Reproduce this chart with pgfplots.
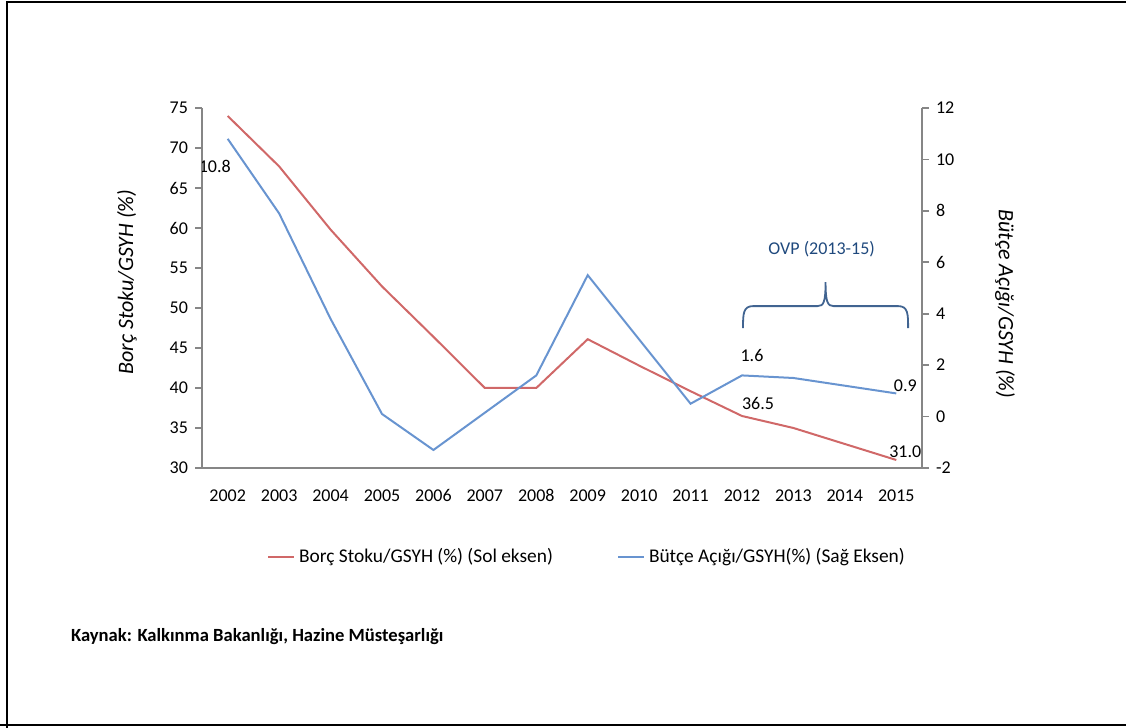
\documentclass[border=0pt]{standalone}
\usepackage{fontspec}
\setmainfont{Carlito}
\usepackage{pgfplots}
\pgfplotsset{compat=1.18}
\usetikzlibrary{calc}

\definecolor{redline}{RGB}{208,104,104}
\definecolor{blueline}{RGB}{104,148,208}
\definecolor{axisgray}{RGB}{134,134,134}
\definecolor{ovpblue}{RGB}{31,73,125}

% data: year index (0 = 2002), value
\pgfplotstableread{
x y
0 74.0
1 67.7
2 59.8
3 52.7
4 46.4
5 40.0
6 40.0
7 46.1
8 42.8
9 39.6
10 36.5
11 35.0
12 33.0
13 31.0
}\borc
\pgfplotstableread{
x y
0 10.8
1 7.9
2 3.8
3 0.1
4 -1.3
5 0.15
6 1.6
7 5.5
8 3.0
9 0.5
10 1.6
11 1.5
12 1.2
13 0.9
}\butce

\newcommand\lblfont{\fontsize{9}{10}\selectfont}

\begin{document}
\begin{tikzpicture}[x=0.5pt,y=0.5pt]
\useasboundingbox (0,0) rectangle (1126,728);
% frame
\draw[line width=1.2pt] (7,-10) -- (7,726) -- (1140,726);
\draw[line width=1.2pt] (0,3) -- (1140,3);

\pgfplotsset{
  common/.style={
    scale only axis, width=360pt, height=180pt,
    at={(101pt,130pt)}, anchor=south west,
    xmin=-0.5, xmax=13.5,
    tick align=outside,
    axis line style={axisgray, line width=0.8pt},
    major tick style={axisgray, line width=0.8pt},
    minor tick style={axisgray, line width=0.8pt},
    major tick length=3.5pt, minor tick length=3.5pt,
    tick label style={font=\lblfont},
    /pgf/number format/assume math mode=true,
  }
}

\begin{axis}[common,
  axis y line*=left, axis x line*=bottom,
  ymin=30, ymax=75, ytick={30,35,...,75},
  xtick={0,...,13}, xticklabels={2002,2003,2004,2005,2006,2007,2008,2009,2010,2011,2012,2013,2014,2015},
  minor xtick={-0.5,0.5,...,13.5},
  xtick style={draw=none},
  xticklabel style={yshift=-2pt, text height=1.6ex, text depth=0.2ex},
  legend columns=2,
  legend style={at={(0.536,-0.247)}, anchor=center, draw=none, fill=none,
    font=\fontsize{9.7}{11}\selectfont,
    /tikz/every even column/.append style={column sep=30pt}},
  legend image code/.code={\draw[#1] (0pt,0pt) -- (13pt,0pt);},
]
\addplot[redline, line width=1pt] table[x=x,y=y] {\borc};
\addlegendentry{Borç Stoku/GSYH (\%) (Sol eksen)}
\addlegendimage{blueline, line width=1pt}
\addlegendentry{Bütçe Açığı/GSYH(\%) (Sağ Eksen)}
\node[font=\lblfont] at (axis cs:0,74) [xshift=4.5pt,yshift=9.5pt] {74.0};
\node[font=\lblfont] at (axis cs:10,36.5) [xshift=8pt,yshift=6.5pt] {36.5};
\node[font=\lblfont] at (axis cs:13,31.0) [xshift=4.5pt,yshift=4pt] {31.0};
\end{axis}

\begin{axis}[common,
  axis y line*=right, axis x line=none,
  ymin=-2, ymax=12, ytick={-2,0,...,12},
]
\addplot[blueline, line width=1pt] table[x=x,y=y] {\butce};
\node[font=\lblfont] at (axis cs:0,10.8) [xshift=-6.5pt,yshift=-14pt] {10.8};
\node[font=\lblfont] at (axis cs:10,1.6) [xshift=5pt,yshift=10pt] {1.6};
\node[font=\lblfont] at (axis cs:13,0.9) [xshift=4.5pt,yshift=4pt] {0.9};
\coordinate (b1) at (axis cs:10.02,3.44);
\coordinate (b2) at (axis cs:13.23,3.44);
\node[text=ovpblue, font=\lblfont] at (axis cs:11.55,6.52) {OVP (2013-15)};
\end{axis}

% OVP brace
\coordinate (bm) at ($(b1)!0.5!(b2)$);
\draw[ovpblue!85!white, line width=0.9pt]
  (b1) .. controls ($(b1)+(0pt,7pt)$) and ($(b1)+(0pt,11pt)$) .. ($(b1)+(5pt,11pt)$)
  -- ($(bm)+(-4pt,11pt)$) .. controls ($(bm)+(-1pt,11pt)$) and ($(bm)+(0pt,13pt)$) .. ($(bm)+(0pt,23pt)$)
  .. controls ($(bm)+(0pt,13pt)$) and ($(bm)+(1pt,11pt)$) .. ($(bm)+(4pt,11pt)$)
  -- ($(b2)+(-5pt,11pt)$) .. controls ($(b2)+(0pt,11pt)$) and ($(b2)+(0pt,7pt)$) .. (b2);

% axis titles and source
\node[rotate=90, font=\itshape\fontsize{11}{12}\selectfont] at (127,446) {Borç Stoku/GSYH (\%)};
\node[rotate=-90, font=\itshape\fontsize{11}{12}\selectfont] at (1005,424) {Bütçe Açığı/GSYH (\%)};
\node[anchor=west, font=\bfseries\fontsize{9.3}{10}\selectfont] at (64,91) {Kaynak: Kalkınma Bakanlığı, Hazine Müsteşarlığı};
\end{tikzpicture}
\end{document}
